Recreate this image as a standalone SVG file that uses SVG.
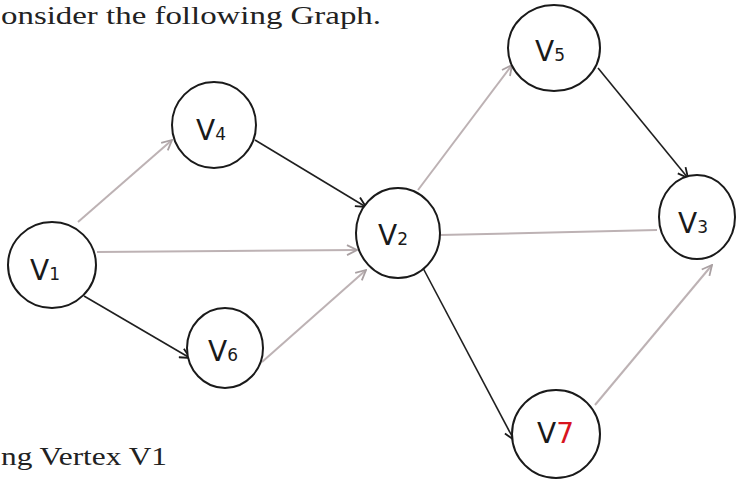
<svg xmlns="http://www.w3.org/2000/svg" width="736" height="479" viewBox="0 0 736 479">
<style>
.node{fill:#fff;stroke:#1a1a1a;stroke-width:2}
.lbl{font-family:"DejaVu Sans","Liberation Sans",sans-serif;font-size:28px;fill:#1a1a1a}
.sub{font-size:17px}
.g{stroke:#bdb2b4;stroke-width:2;fill:none}
.k{stroke:#1f1f1f;stroke-width:1.6;fill:none}
.cap{font-family:"Liberation Serif","Times New Roman",serif;fill:#222}
</style>
<defs>
<marker id="ag" viewBox="0 0 12 12" refX="11" refY="6" markerWidth="12" markerHeight="12" markerUnits="userSpaceOnUse" orient="auto">
<path d="M1,1 L11,6 L1,11" fill="none" stroke="#a9a0a2" stroke-width="1.8"/>
</marker>
<marker id="ak" viewBox="0 0 12 12" refX="11" refY="6" markerWidth="12" markerHeight="12" markerUnits="userSpaceOnUse" orient="auto">
<path d="M1,1 L11,6 L1,11" fill="none" stroke="#1a1a1a" stroke-width="1.8"/>
</marker>
</defs>
<rect width="736" height="479" fill="#fff"/>
<text class="cap" x="1" y="24" font-size="26" textLength="380" lengthAdjust="spacingAndGlyphs">onsider the following Graph.</text>
<text class="cap" x="1" y="465" font-size="26" textLength="166" lengthAdjust="spacingAndGlyphs">ng Vertex V1</text>
<g id="edges">
<line class="g" x1="78" y1="222" x2="172" y2="140" marker-end="url(#ag)"/>
<line class="g" x1="97" y1="252" x2="357" y2="250" marker-end="url(#ag)"/>
<line class="k" x1="84" y1="296" x2="190" y2="358" marker-end="url(#ak)"/>
<line class="k" x1="255" y1="140" x2="366" y2="207" marker-end="url(#ak)"/>
<line class="g" x1="262" y1="362" x2="366" y2="270" marker-end="url(#ag)"/>
<line class="g" x1="418" y1="190" x2="512" y2="65" marker-end="url(#ag)"/>
<line class="g" x1="440" y1="235" x2="657" y2="230"/>
<line class="k" x1="598" y1="68" x2="688" y2="178" marker-end="url(#ak)"/>
<line class="k" x1="423" y1="268" x2="514" y2="440" marker-end="url(#ak)"/>
<line class="g" x1="595" y1="405" x2="712" y2="265" marker-end="url(#ag)"/>
</g>
<g id="V1"><ellipse class="node" cx="52" cy="265" rx="44" ry="43"/><text class="lbl" x="30" y="280">V<tspan class="sub">1</tspan></text></g>
<g id="V4"><ellipse class="node" cx="214" cy="125" rx="42" ry="43"/><text class="lbl" x="196" y="140">V<tspan class="sub">4</tspan></text></g>
<g id="V6"><ellipse class="node" cx="225" cy="348" rx="38" ry="40"/><text class="lbl" x="208" y="361">V<tspan class="sub">6</tspan></text></g>
<g id="V2"><ellipse class="node" cx="398" cy="233" rx="42" ry="45"/><text class="lbl" x="378" y="245">V<tspan class="sub">2</tspan></text></g>
<g id="V5"><ellipse class="node" cx="554" cy="48" rx="46" ry="43"/><text class="lbl" x="535" y="61">V<tspan class="sub">5</tspan></text></g>
<g id="V3"><ellipse class="node" cx="697" cy="217" rx="38" ry="42"/><text class="lbl" x="678" y="233">V<tspan class="sub">3</tspan></text></g>
<g id="V7"><ellipse class="node" cx="556" cy="434" rx="44" ry="44"/><text class="lbl" x="537" y="443">V<tspan fill="#d8141e">7</tspan></text></g>
</svg>
